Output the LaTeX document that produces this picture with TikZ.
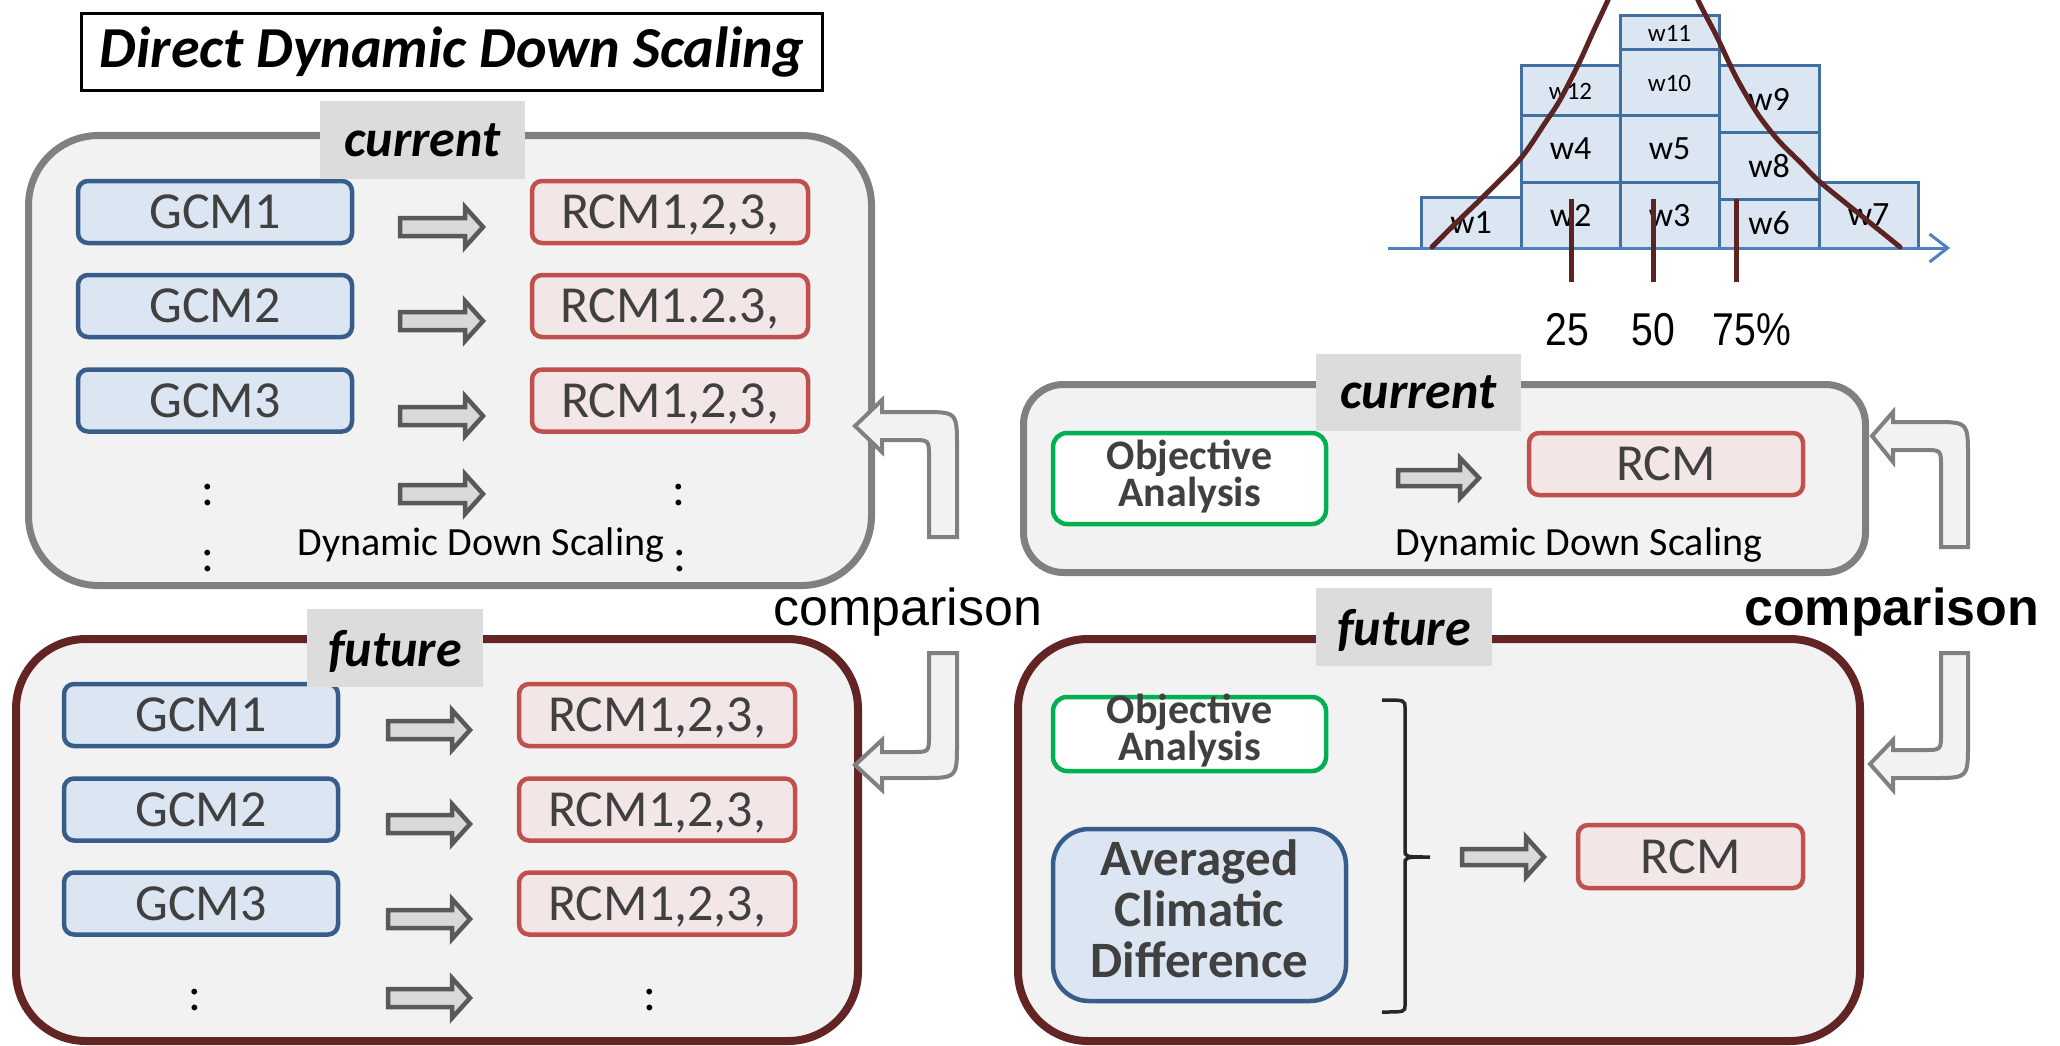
\documentclass[tikz,border=0pt]{standalone}
\usepackage{fontspec}
\setmainfont{Carlito}
\newfontfamily\arialf{Liberation Sans}
\newfontfamily\narrowf[FakeStretch=0.85]{Liberation Sans}
\usetikzlibrary{arrows.meta}
\definecolor{panelfill}{HTML}{F2F2F2}
\definecolor{curborder}{HTML}{808080}
\definecolor{futborder}{HTML}{632523}
\definecolor{tagfill}{HTML}{DCDCDC}
\definecolor{gcmborder}{HTML}{385D8A}
\definecolor{gcmfill}{HTML}{DCE6F2}
\definecolor{rcmborder}{HTML}{C0504D}
\definecolor{rcmfill}{HTML}{F2E7E6}
\definecolor{oagreen}{HTML}{00B050}
\definecolor{txtgray}{HTML}{404040}
\definecolor{arrowfill}{HTML}{D9D9D9}
\definecolor{arrowborder}{HTML}{595959}
\definecolor{histborder}{HTML}{41709F}
\definecolor{axisblue}{HTML}{4F81BD}
\definecolor{curvecol}{HTML}{5B2322}
\definecolor{bracketcol}{HTML}{262626}
\newcommand\fsz[2]{\fontsize{#1}{#2}\selectfont}
\newcommand\barrow[6]{\draw[barr] (#1,#4-#5) -- (#2,#4-#5) -- (#2,#4-#6) -- (#3,#4) -- (#2,#4+#6) -- (#2,#4+#5) -- (#1,#4+#5) -- cycle;}
\tikzset{
  panelbase/.style={fill=panelfill, inner sep=0pt, outer sep=0pt},
  pcur/.style={panelbase, draw=curborder, line width=7pt, rounded corners=70pt},
  pfut/.style={panelbase, draw=futborder, line width=8pt, rounded corners=70pt},
  lbltag/.style={fill=tagfill, inner sep=0pt, font=\fsz{52}{60}\bfseries\itshape, text=black, text depth=0pt},
  gcm/.style={draw=gcmborder, fill=gcmfill, line width=4.5pt, rounded corners=10pt, minimum width=274pt, minimum height=62pt, inner sep=0pt, text=txtgray, font=\fsz{52}{60}, text depth=0pt},
  rcm/.style={gcm, draw=rcmborder, fill=rcmfill, minimum width=276pt},
  oabox/.style={draw=oagreen, fill=white, line width=4.5pt, rounded corners=14pt, inner sep=0pt},
  oatext/.style={align=center, font=\fsz{42}{37}\bfseries, text=txtgray, inner sep=0pt},
  barr/.style={draw=arrowborder, fill=arrowfill, line width=4.5pt, line join=miter},
  uarr/.style={draw=curborder, fill=panelfill, line width=4pt, line join=miter},
  dotsep/.style={font=\fsz{48}{50}, inner sep=0pt, text=black},
  dds/.style={font=\fsz{40}{48}, inner sep=0pt, anchor=base, text=black},
  hcell/.style={draw=histborder, fill=gcmfill, line width=3pt, inner sep=0pt, text depth=0pt, font=\fsz{34}{40}, text=black},
  hsmall/.style={hcell, font=\fsz{25}{30}},
  pline/.style={draw=curvecol, line width=5pt},
  pct/.style={font=\narrowf\fsz{46}{50}, inner sep=0pt, anchor=base, text=black}
}
\begin{document}
\begin{tikzpicture}[x=1pt,y=-1pt]
\useasboundingbox (0,0) rectangle (2060,1046);
\fill[white] (0,0) rectangle (2060,1046);

% ---------- title ----------
\node[draw=black, line width=3pt, minimum width=741pt, minimum height=77pt, inner sep=0pt, font=\fsz{58}{60}\bfseries\itshape] (title) at (452,52) {Direct Dynamic Down Scaling};

% ---------- left current panel ----------
\node[pcur, minimum width=843pt, minimum height=450pt] (lcur) at (450,360.5) {};
\node[gcm] (lg1) at (215,212) {GCM1};
\node[gcm] (lg2) at (215,306) {GCM2};
\node[gcm] (lg3) at (215,400.5) {GCM3};
\node[rcm] (lr1) at (670,212) {RCM1,2,3,};
\node[rcm] (lr2) at (670,306) {RCM1.2.3,};
\node[rcm] (lr3) at (670,400.5) {RCM1,2,3,};
\barrow{400}{465}{483}{227}{9}{20}
\barrow{400}{465}{483}{321}{9}{20}
\barrow{400}{465}{483}{416}{9}{20}
\barrow{400}{465}{483}{494}{9}{20}
\node[dotsep] (ld1) at (208,495) {:};
\node[dotsep] (ld2) at (679,495) {:};
\node[dotsep] (ld3) at (208,561) {:};
\node[dotsep] (ld4) at (680,561) {:};
\node[dds] (ldds) at (481,555) {Dynamic Down Scaling};
\node[lbltag, minimum width=205pt, minimum height=78pt] (lcurlab) at (422.5,140) {current};

% ---------- left future panel ----------
\node[pfut, minimum width=842pt, minimum height=402pt] (lfut) at (437,840) {};
\node[gcm] (fg1) at (201,715) {GCM1};
\node[gcm] (fg2) at (201,809.5) {GCM2};
\node[gcm] (fg3) at (201,903.5) {GCM3};
\node[rcm] (fr1) at (657,715) {RCM1,2,3,};
\node[rcm] (fr2) at (657,809.5) {RCM1,2,3,};
\node[rcm] (fr3) at (657,903.5) {RCM1,2,3,};
\barrow{388}{452}{470}{730}{9}{20}
\barrow{388}{452}{470}{824}{9}{20}
\barrow{388}{452}{470}{919}{9}{20}
\barrow{388}{452}{470}{998}{9}{20}
\node[dotsep] (fd1) at (195,1000) {:};
\node[dotsep] (fd2) at (650,1000) {:};
\node[lbltag, minimum width=176pt, minimum height=78pt] (lfutlab) at (395,648) {future};

% ---------- right current panel ----------
\node[panelbase, draw=curborder, line width=7pt, rounded corners=40pt, minimum width=842pt, minimum height=188pt] (rcur) at (1444.5,478.5) {};
\node[oabox, minimum width=273pt, minimum height=91pt] (roa1) at (1189.5,478.5) {};
\node[oatext] (roa1t) at (1189.5,477) {Objective\\Analysis};
\node[rcm, minimum width=274pt] (rr1) at (1666,464) {RCM};
\barrow{1398}{1460}{1479}{478}{8}{20}
\node[dds] (rdds) at (1579,555) {Dynamic Down Scaling};
\node[lbltag, minimum width=205pt, minimum height=77pt] (rcurlab) at (1418.5,392.5) {current};

% ---------- right future panel ----------
\node[pfut, minimum width=842pt, minimum height=402pt] (rfut) at (1439,840) {};
\node[oabox, minimum width=273pt, minimum height=74pt] (roa2) at (1189.5,734) {};
\node[oatext] (roa2t) at (1189.5,731) {Objective\\Analysis};
\node[draw=gcmborder, fill=gcmfill, line width=4.5pt, rounded corners=36pt, minimum width=293pt, minimum height=172pt, inner sep=0pt] (acd) at (1199.5,915) {};
\node[align=center, font=\fsz{51}{51}\bfseries, text=txtgray, inner sep=0pt] (acdt) at (1199.5,909) {Averaged\\Climatic\\Difference};
\node[rcm, minimum width=225pt, minimum height=63pt] (rr2) at (1690.5,856.5) {RCM};
\draw[draw=bracketcol, line width=3.5pt] (1382,700) .. controls (1405,700) .. (1405,708) -- (1405,850) .. controls (1405,857) .. (1430,857) .. controls (1405,857) .. (1405,864) -- (1405,1005) .. controls (1405,1012) .. (1382,1012);
\barrow{1462}{1526}{1544}{857}{8}{20}
\node[lbltag, minimum width=176pt, minimum height=78pt] (rfutlab) at (1404,627) {future};

% ---------- comparison arrows ----------
\draw[uarr] (929,537) -- (929,457) .. controls (929,440) .. (912,440) -- (882,440) -- (882,452) -- (855,426) -- (882,400) -- (882,412) -- (922,412) .. controls (957,412) .. (957,447) -- (957,537) -- cycle;
\draw[uarr] (929,653) -- (929,735) .. controls (929,752) .. (912,752) -- (882,752) -- (882,740) -- (855,765) -- (882,790) -- (882,778) -- (922,778) .. controls (957,778) .. (957,743) -- (957,653) -- cycle;
\draw[uarr] (1941,547) -- (1941,467) .. controls (1941,450) .. (1924,450) -- (1893,450) -- (1893,462) -- (1872,436) -- (1893,412) -- (1893,422) -- (1933,422) .. controls (1968,422) .. (1968,457) -- (1968,547) -- cycle;
\draw[uarr] (1941,653) -- (1941,733) .. controls (1941,750) .. (1924,750) -- (1893,750) -- (1893,740) -- (1870,764) -- (1893,790) -- (1893,778) -- (1933,778) .. controls (1968,778) .. (1968,743) -- (1968,653) -- cycle;
\node[font=\arialf\fsz{52}{60}, anchor=base west, inner sep=0pt] (cmpl) at (773,625) {comparison};
\node[font=\arialf\bfseries\fsz{52}{60}, anchor=base west, inner sep=0pt] (cmpr) at (1744,625) {comparison};

% ---------- histogram ----------
\node[hcell, minimum width=100pt, minimum height=51pt] (w1) at (1471,222.5) {w1};
\node[hcell, minimum width=99pt, minimum height=66pt] (w2) at (1570.5,215) {w2};
\node[hcell, minimum width=99pt, minimum height=66pt] (w4) at (1570.5,149) {w4};
\node[hsmall, minimum width=99pt, minimum height=50pt] (w12) at (1570.5,91) {w12};
\node[hcell, minimum width=99pt, minimum height=66pt] (w3) at (1669.5,215) {w3};
\node[hcell, minimum width=99pt, minimum height=66pt] (w5) at (1669.5,149) {w5};
\node[hsmall, minimum width=99pt, minimum height=66pt] (w10) at (1669.5,83) {w10};
\node[hsmall, minimum width=99pt, minimum height=34pt] (w11) at (1669.5,33) {w11};
\node[hcell, minimum width=100pt, minimum height=49pt] (w6) at (1769,223.5) {w6};
\node[hcell, minimum width=100pt, minimum height=66pt] (w8) at (1769,166) {w8};
\node[hcell, minimum width=100pt, minimum height=67pt] (w9) at (1769,99.5) {w9};
\node[hcell, minimum width=99pt, minimum height=66pt] (w7) at (1868.5,215) {w7};
\coordinate (axs) at (1388,248);
\coordinate (axe) at (1950,248);
\draw[axisblue, line width=3pt, -{Straight Barb[length=18pt,width=28pt]}] (axs) -- (axe);
\begin{scope}
\clip (0,0) rectangle (2060,1046);
\draw[curvecol, line width=5pt, line cap=round] plot[smooth] coordinates {(1432,247) (1457,222) (1487,193) (1521,158) (1545,123) (1560,100) (1579,63) (1594,30) (1608,0) (1616,-20)};
\draw[curvecol, line width=5pt, line cap=round] plot[smooth] coordinates {(1692,-20) (1698,0) (1717,37) (1736,77) (1757,113) (1778,140) (1801,163) (1820,182) (1858,213) (1900,247)};
\end{scope}
\draw[pline] (1571,199) -- (1571,282);
\draw[pline] (1653,199) -- (1653,282);
\draw[pline] (1736,199) -- (1736,282);
\node[pct] (p25) at (1567,345) {25};
\node[pct] (p50) at (1653,345) {50};
\node[pct] (p75) at (1752,345) {75\%};
\end{tikzpicture}
\end{document}
